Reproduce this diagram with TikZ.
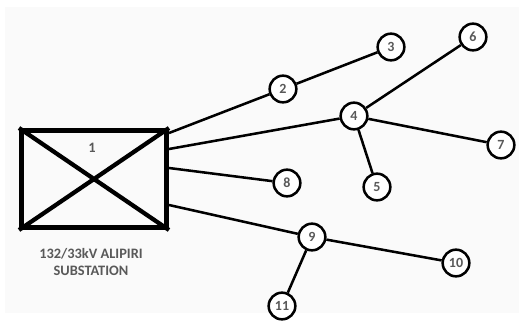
\documentclass[tikz,border=0pt]{standalone}
\usepackage{fontspec}
\setmainfont{Carlito}
\begin{document}
\begin{tikzpicture}[x=0.75pt,y=-0.75pt,
  bus/.style={circle,draw=black,line width=1.9pt,fill=white,minimum size=20pt,inner sep=0pt,font=\bfseries\fontsize{10.5}{11}\selectfont,text=black!65},
  feeder/.style={line width=1.9pt,black},
  lbl/.style={font=\bfseries\fontsize{10.8}{12.5}\selectfont,text=black!65}]
\useasboundingbox (0,0) rectangle (519,333);
\fill[white] (0,0) rectangle (519,333);
\fill[black!2] (5,7) rectangle (519,313);
% substation box
\node[draw=black,line width=3.5pt,minimum width=109pt,minimum height=73pt,inner sep=0pt] (box) at (94,179) {};
\draw[line width=3.2pt] (box.north west) -- (box.south east) (box.south west) -- (box.north east);
\node[lbl] (n1) at (92,148) {1};
\node[lbl,align=center] (sub) at (91,262) {132/33kV ALIPIRI\\SUBSTATION};
% buses
\node[bus] (b2) at (283,89) {2};
\node[bus] (b3) at (391,47) {3};
\node[bus] (b4) at (354,116) {4};
\node[bus] (b5) at (377,187) {5};
\node[bus] (b6) at (473,37) {6};
\node[bus] (b7) at (501,145) {7};
\node[bus] (b8) at (287,183) {8};
\node[bus] (b9) at (312,237) {9};
\node[bus] (b10) at (456,263) {10};
\node[bus] (b11) at (282,306) {11};
% feeder starts on box
\coordinate (s2) at (169,133);
\coordinate (s4) at (169,149);
\coordinate (s8) at (169,168);
\coordinate (s9) at (169,205);
\draw[feeder] (s2) -- (b2);
\draw[feeder] (s4) -- (b4);
\draw[feeder] (s8) -- (b8);
\draw[feeder] (s9) -- (b9);
\draw[feeder] (b2) -- (b3);
\draw[feeder] (b4) -- (b6);
\draw[feeder] (b4) -- (b7);
\draw[feeder] (b4) -- (b5);
\draw[feeder] (b9) -- (b10);
\draw[feeder] (b9) -- (b11);
\end{tikzpicture}
\end{document}
